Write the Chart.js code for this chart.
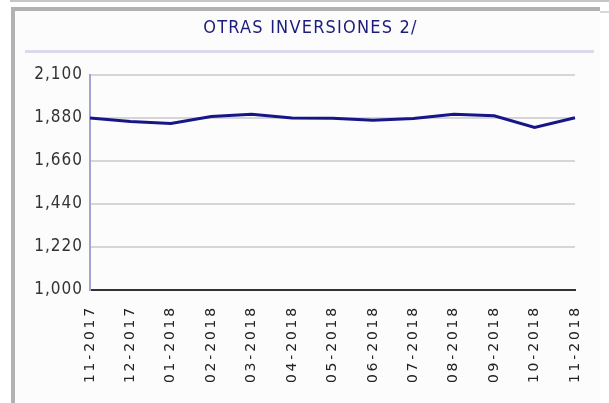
<!DOCTYPE html>
<html>
<head>
<meta charset="utf-8">
<script src="https://cdn.jsdelivr.net/npm/chart.js@4"></script>
<style>
  html, body { margin: 0; padding: 0; background: #ffffff; }
  body { width: 609px; height: 403px; position: relative; overflow: hidden; }
  #topline { position: absolute; left: 10px; top: 0; width: 599px; height: 2px; background: #c6c6c6; }
  #box { position: absolute; left: 11px; top: 7px; width: 585px; height: 400px;
         border-left: 4px solid #b2b2b2; border-top: 4px solid #b2b2b2; background: #fcfcfd; }
  #stub { position: absolute; left: 600px; top: 11px; width: 9px; height: 2px; background: #d8d8d8; }
  #sep { position: absolute; left: 25px; top: 50px; width: 569px; height: 3px; background: #dadaec; }
  #c { position: absolute; left: 0; top: 0; }
</style>
</head>
<body>
<div id="topline"></div>
<div id="box"></div>
<div id="stub"></div>
<div id="sep"></div>
<canvas id="c" width="609" height="403"></canvas>
<script>
const title = 'OTRAS INVERSIONES 2/';
const categories = ['11-2017','12-2017','01-2018','02-2018','03-2018','04-2018','05-2018','06-2018','07-2018','08-2018','09-2018','10-2018','11-2018'];
const values = [1878, 1861, 1850, 1886, 1898, 1878, 1877, 1867, 1876, 1897, 1890, 1830, 1880];
const yTickLabels = ['1,000','1,220','1,440','1,660','1,880','2,100'];
const yMin = 1000, yMax = 2100, yGridStep = 110;

// letter spacing per text role (matched by font size)
const spacingPlugin = {
  id: 'letterSpacing',
  beforeInit(chart) {
    const c = chart.ctx;
    const orig = c.fillText;
    c.fillText = function (text, x, y, maxW) {
      const f = this.font;
      let sp = '0px';
      if (f.indexOf('14px') >= 0) sp = '2.8px';
      else if (f.indexOf('18px') >= 0) sp = '1.2px';
      else if (f.indexOf('17px') >= 0) sp = '1px';
      this.letterSpacing = sp;
      if (maxW === undefined) return orig.call(this, text, x, y);
      return orig.call(this, text, x, y, maxW);
    };
  }
};

const ctx = document.getElementById('c').getContext('2d');
new Chart(ctx, {
  type: 'line',
  data: {
    labels: categories,
    datasets: [{
      data: values,
      borderColor: '#161689',
      borderWidth: 3,
      pointRadius: 0,
      tension: 0,
      fill: false
    }]
  },
  plugins: [spacingPlugin],
  options: {
    responsive: false,
    animation: false,
    devicePixelRatio: 1,
    layout: { padding: { left: 12, right: 0, top: 0, bottom: 0 } },
    plugins: {
      legend: { display: false },
      tooltip: { enabled: false },
      title: {
        display: true,
        text: title,
        color: '#1c1c7a',
        font: { family: 'DejaVu Sans Condensed', size: 18, weight: 'normal', lineHeight: 1.2 },
        padding: { top: 18, bottom: 35 }
      }
    },
    scales: {
      x: {
        offset: false,
        grid: { display: false, drawTicks: false },
        border: { display: true, color: '#333333', width: 2 },
        ticks: {
          autoSkip: false, maxRotation: 90, minRotation: 90, padding: 15,
          color: '#222222',
          font: { family: 'DejaVu Sans', size: 14 }
        },
        afterFit: (s) => { s.height = 113; }
      },
      y: {
        min: yMin, max: yMax,
        grid: { color: '#d6d6d6', lineWidth: 2, drawTicks: false },
        border: { display: true, color: '#a4a4d2', width: 2 },
        ticks: {
          stepSize: yGridStep, padding: 7, color: '#333333',
          font: { family: 'DejaVu Sans Condensed', size: 17 },
          callback: (v) => {
            const lbl = Number(v).toLocaleString('en-US');
            return yTickLabels.includes(lbl) ? lbl : '';
          }
        },
        afterFit: (s) => { s.width = 78; }
      },
      yRight: {
        position: 'right',
        display: true,
        min: yMin, max: yMax,
        grid: { display: false, drawTicks: false },
        border: { display: false },
        ticks: { display: false },
        afterFit: (s) => { s.width = 34; }
      }
    }
  }
});
</script>
</body>
</html>
